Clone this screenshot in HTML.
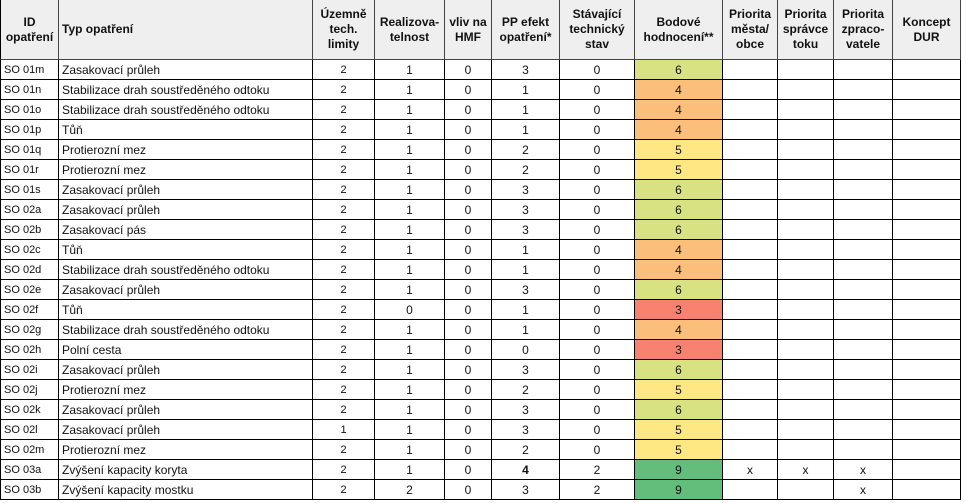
<!DOCTYPE html>
<html><head><meta charset="utf-8"><style>
body{margin:0;width:966px;height:503px;background:#fff;overflow:hidden;font-family:"Liberation Sans",sans-serif;}
#t{position:absolute;left:0;top:0;}
.c{position:absolute;box-sizing:border-box;border-right:1px solid #000;border-bottom:1px solid #000;display:flex;align-items:center;justify-content:center;font-size:12px;color:#111;white-space:nowrap;overflow:hidden;}
.h{background:#efefef;font-weight:bold;text-align:center;line-height:15px;white-space:normal;font-size:12px;border-color:#444;}
.l{justify-content:flex-start;padding-left:3px;}
.s{font-size:11px;}
</style></head><body>
<div id="t"></div>
<script>
const xs=[0,59,313,375,445,492,560,635,723,778,834,893,961];
const headers=["ID<br>opatření","Typ opatření","Územně<br>tech.<br>limity","Realizova-<br>telnost","vliv na<br>HMF","PP efekt<br>opatření*","Stávající<br>technický<br>stav","Bodové<br>hodnocení**","Priorita<br>města/<br>obce","Priorita<br>správce<br>toku","Priorita<br>zpraco-<br>vatele","Koncept<br>DUR"];
const ids=["SO 01m","SO 01n","SO 01o","SO 01p","SO 01q","SO 01r","SO 01s","SO 02a","SO 02b","SO 02c","SO 02d","SO 02e","SO 02f","SO 02g","SO 02h","SO 02i","SO 02j","SO 02k","SO 02l","SO 02m","SO 03a","SO 03b"];
const types=["Zasakovací průleh","Stabilizace drah soustředěného odtoku","Stabilizace drah soustředěného odtoku","Tůň","Protierozní mez","Protierozní mez","Zasakovací průleh","Zasakovací průleh","Zasakovací pás","Tůň","Stabilizace drah soustředěného odtoku","Zasakovací průleh","Tůň","Stabilizace drah soustředěného odtoku","Polní cesta","Zasakovací průleh","Protierozní mez","Zasakovací průleh","Zasakovací průleh","Protierozní mez","Zvýšení kapacity koryta","Zvýšení kapacity mostku"];
const limits=[2,2,2,2,2,2,2,2,2,2,2,2,2,2,2,2,2,2,1,2,2,2];
const feasibility=[1,1,1,1,1,1,1,1,1,1,1,1,0,1,1,1,1,1,1,1,1,2];
const hmf=[0,0,0,0,0,0,0,0,0,0,0,0,0,0,0,0,0,0,0,0,0,0];
const effect=[3,1,1,1,2,2,3,3,3,1,1,3,1,1,0,3,2,3,3,2,4,3];
const state=[0,0,0,0,0,0,0,0,0,0,0,0,0,0,0,0,0,0,0,0,2,2];
const score=[6,4,4,4,5,5,6,6,6,4,4,6,3,4,3,6,5,6,5,5,9,9];
const prioCity=["","","","","","","","","","","","","","","","","","","","","x",""];
const prioRiver=["","","","","","","","","","","","","","","","","","","","","x",""];
const prioAuthor=["","","","","","","","","","","","","","","","","","","","","x","x"];
const colors={3:"#f8826f",4:"#fbbe7b",5:"#ffe784",6:"#d9e282",9:"#64be7b"};
const t=document.getElementById('t');
const names=["id","type","limits","feasibility","hmf","effect","state","score","priority-city","priority-river","priority-author","concept-dur"];
function cell(i,y,h,html,cls,bg,name){
  const d=document.createElement('div');
  d.className='c '+cls;
  d.style.left=xs[i]+'px';d.style.top=y+'px';
  d.style.width=(xs[i+1]-xs[i]+(i==0?0:0))+'px';d.style.height=h+'px';
  if(i==0)d.style.borderLeft='1px solid #000';
  if(bg)d.style.background=bg;
  d.innerHTML=html;
  
  
  t.appendChild(d);
}
headers.forEach((h,i)=>cell(i,0,60,h,'h'+(i==1?' l':''),null,'header-'+names[i]));
ids.forEach((id,r)=>{
  const y=59.5+r*20;
  const vals=[id,types[r],limits[r],feasibility[r],hmf[r],effect[r],state[r],score[r],prioCity[r],prioRiver[r],prioAuthor[r],""];
  vals.forEach((v,i)=>{
    let cls=i<2?'l':'';
    if(i==0||i==2)cls+=' s';
    let html=String(v);
    if(i==5&&r==20)html='<b>'+v+'</b>';
    cell(i,Math.round(y),20,html,cls,i==7?colors[v]:null,names[i]+'-'+id.replace(' ','-').toLowerCase());
  });
});
</script>
</body></html>
